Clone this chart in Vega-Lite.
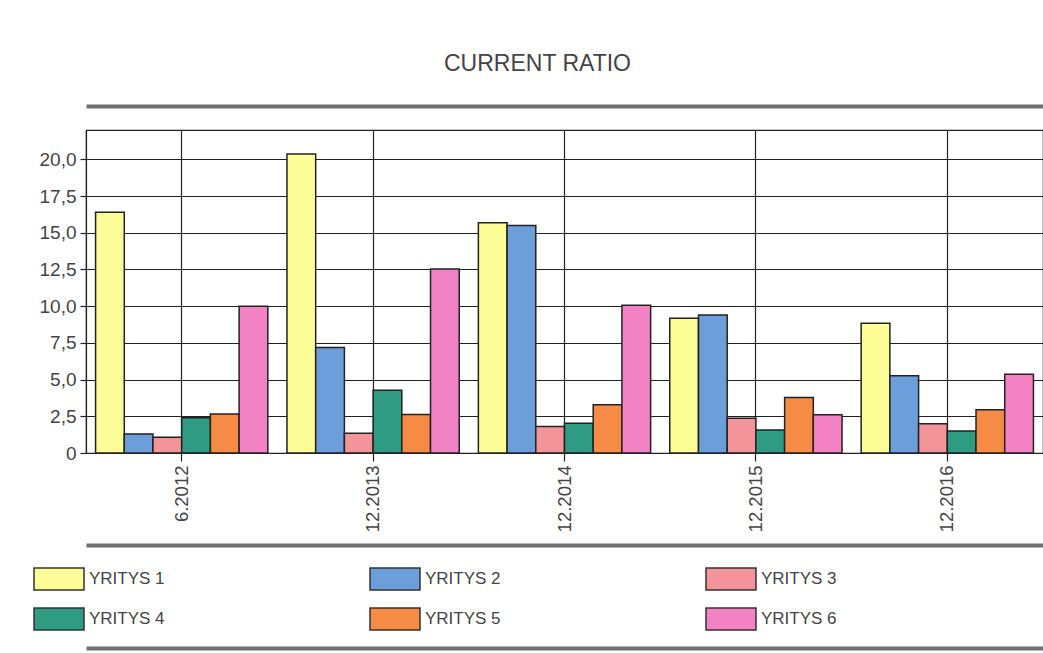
{
  "$schema": "https://vega.github.io/schema/vega-lite/v6.json",
  "autosize": "none",
  "width": 957,
  "height": 323,
  "padding": {"left": 86, "top": 130, "right": 0, "bottom": 200},
  "background": "white",
  "title": {"text": "CURRENT RATIO", "font": "Liberation Sans", "fontSize": 23, "fontWeight": "normal", "color": "#444", "dx": -27, "offset": 12, "baseline": "alphabetic"},
  "data": {"values": [
    {"period": "6.2012", "company": "YRITYS 1", "value": 16.4},
    {"period": "6.2012", "company": "YRITYS 2", "value": 1.3},
    {"period": "6.2012", "company": "YRITYS 3", "value": 1.07},
    {"period": "6.2012", "company": "YRITYS 4", "value": 2.4},
    {"period": "6.2012", "company": "YRITYS 5", "value": 2.66},
    {"period": "6.2012", "company": "YRITYS 6", "value": 10.0},
    {"period": "12.2013", "company": "YRITYS 1", "value": 20.36},
    {"period": "12.2013", "company": "YRITYS 2", "value": 7.19},
    {"period": "12.2013", "company": "YRITYS 3", "value": 1.34},
    {"period": "12.2013", "company": "YRITYS 4", "value": 4.28},
    {"period": "12.2013", "company": "YRITYS 5", "value": 2.62},
    {"period": "12.2013", "company": "YRITYS 6", "value": 12.54},
    {"period": "12.2014", "company": "YRITYS 1", "value": 15.68},
    {"period": "12.2014", "company": "YRITYS 2", "value": 15.5},
    {"period": "12.2014", "company": "YRITYS 3", "value": 1.8},
    {"period": "12.2014", "company": "YRITYS 4", "value": 2.03},
    {"period": "12.2014", "company": "YRITYS 5", "value": 3.28},
    {"period": "12.2014", "company": "YRITYS 6", "value": 10.06},
    {"period": "12.2015", "company": "YRITYS 1", "value": 9.17},
    {"period": "12.2015", "company": "YRITYS 2", "value": 9.4},
    {"period": "12.2015", "company": "YRITYS 3", "value": 2.37},
    {"period": "12.2015", "company": "YRITYS 4", "value": 1.57},
    {"period": "12.2015", "company": "YRITYS 5", "value": 3.78},
    {"period": "12.2015", "company": "YRITYS 6", "value": 2.6},
    {"period": "12.2016", "company": "YRITYS 1", "value": 8.83},
    {"period": "12.2016", "company": "YRITYS 2", "value": 5.26},
    {"period": "12.2016", "company": "YRITYS 3", "value": 2.0},
    {"period": "12.2016", "company": "YRITYS 4", "value": 1.5},
    {"period": "12.2016", "company": "YRITYS 5", "value": 2.94},
    {"period": "12.2016", "company": "YRITYS 6", "value": 5.37}
  ]},
  "layer": [
    {
      "mark": {"type": "bar", "stroke": "#222", "strokeWidth": 1.5},
      "encoding": {
        "x": {
          "field": "period", "type": "nominal",
          "sort": ["6.2012", "12.2013", "12.2014", "12.2015", "12.2016"],
          "scale": {"paddingInner": 0.1, "paddingOuter": 0.05},
          "axis": {
            "title": null, "labelAngle": -90, "labelAlign": "right", "labelBaseline": "middle",
            "labelFont": "Liberation Sans", "labelFontSize": 18.5, "labelColor": "#444", "labelPadding": 4,
            "bandPosition": 0.5, "grid": true, "gridColor": "#222", "gridWidth": 1.2,
            "tickSize": 8, "tickColor": "#222", "tickWidth": 1.2, "domainColor": "#222", "domainWidth": 1.2
          }
        },
        "xOffset": {
          "field": "company", "type": "nominal",
          "sort": ["YRITYS 1", "YRITYS 2", "YRITYS 3", "YRITYS 4", "YRITYS 5", "YRITYS 6"],
          "scale": {"paddingInner": 0, "paddingOuter": 0}
        },
        "y": {
          "field": "value", "type": "quantitative",
          "scale": {"domain": [0, 22], "nice": false},
          "axis": {
            "title": null, "values": [0, 2.5, 5, 7.5, 10, 12.5, 15, 17.5, 20],
            "labelExpr": "datum.value == 0 ? '0' : replace(format(datum.value, '.1f'), '.', ',')",
            "labelFont": "Liberation Sans", "labelFontSize": 19, "labelColor": "#444", "labelPadding": 4,
            "grid": true, "gridColor": "#222", "gridWidth": 1.2,
            "tickSize": 6, "tickColor": "#222", "tickWidth": 1.2, "domainColor": "#222", "domainWidth": 1.2
          }
        },
        "fill": {
          "field": "company", "type": "nominal",
          "scale": {
            "domain": ["YRITYS 1", "YRITYS 2", "YRITYS 3", "YRITYS 4", "YRITYS 5", "YRITYS 6"],
            "range": ["#FDFD98", "#6C9FD9", "#F3939A", "#2E9B82", "#F58B45", "#F282C4"]
          },
          "legend": {
            "title": null, "orient": "none", "legendX": -53, "legendY": 423, "direction": "horizontal",
            "columns": 3, "columnPadding": 202, "rowPadding": -10, "padding": 0,
            "symbolType": "M-1,-0.44L1,-0.44L1,0.44L-1,0.44Z", "symbolSize": 2500,
            "symbolStrokeColor": "#333", "symbolStrokeWidth": 1.5, "symbolOpacity": 1,
            "labelFont": "Liberation Sans", "labelFontSize": 17, "labelColor": "#444", "labelOffset": 4,
            "labelLimit": 200
          }
        }
      }
    },
    {
      "mark": {"type": "tick", "opacity": 0},
      "encoding": {
        "x": {
          "field": "period", "type": "nominal",
          "sort": ["6.2012", "12.2013", "12.2014", "12.2015", "12.2016"],
          "axis": {"orient": "top", "offset": 24, "title": null, "labels": false, "ticks": false, "grid": false, "domainColor": "#707070", "domainWidth": 4}
        }
      }
    },
    {
      "mark": {"type": "tick", "opacity": 0},
      "encoding": {
        "x": {
          "field": "period", "type": "nominal",
          "sort": ["6.2012", "12.2013", "12.2014", "12.2015", "12.2016"],
          "axis": {"orient": "bottom", "offset": 92, "title": null, "labels": false, "ticks": false, "grid": false, "domainColor": "#707070", "domainWidth": 4}
        }
      }
    },
    {
      "mark": {"type": "tick", "opacity": 0},
      "encoding": {
        "x": {
          "field": "period", "type": "nominal",
          "sort": ["6.2012", "12.2013", "12.2014", "12.2015", "12.2016"],
          "axis": {"orient": "bottom", "offset": 195, "title": null, "labels": false, "ticks": false, "grid": false, "domainColor": "#707070", "domainWidth": 4}
        }
      }
    }
  ],
  "resolve": {"axis": {"x": "independent"}},
  "config": {"view": {"stroke": "#222", "strokeWidth": 1.2}}
}
